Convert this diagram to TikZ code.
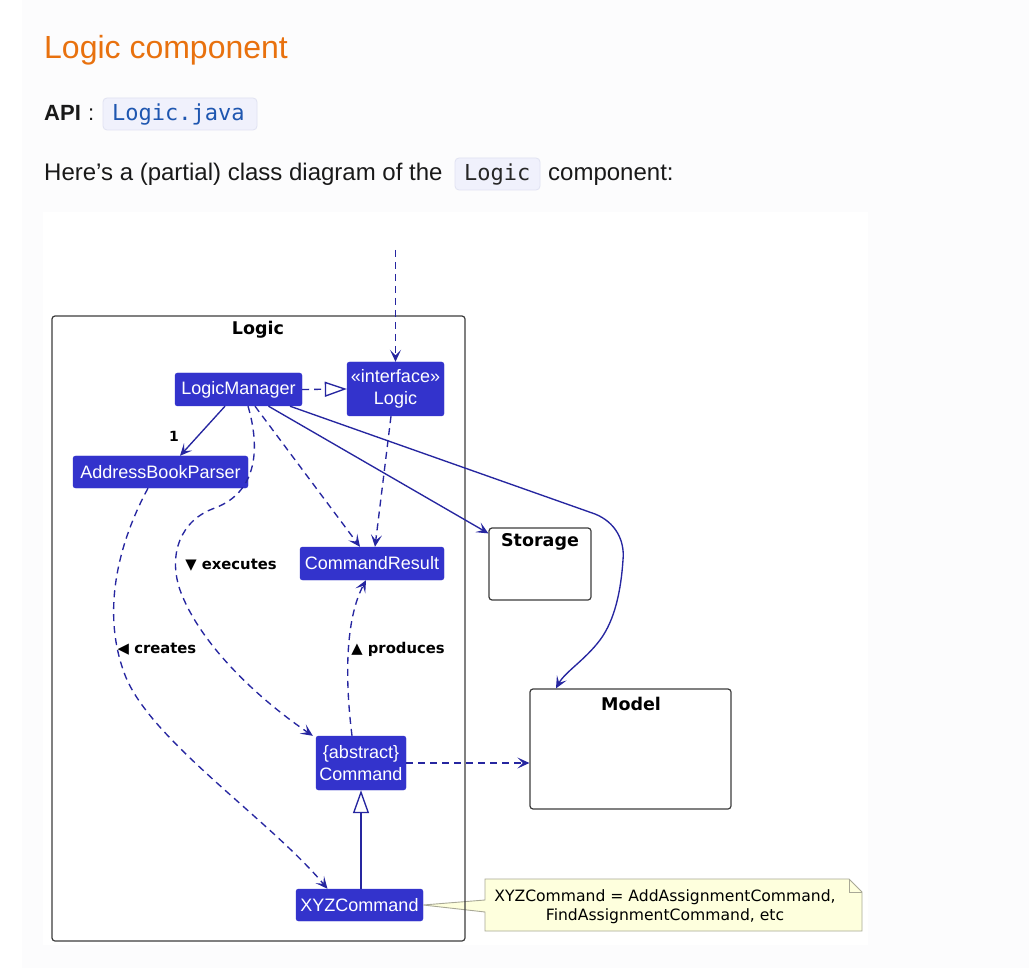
\documentclass[tikz,border=0pt]{standalone}
\usepackage{fontspec}
\setmainfont{Liberation Sans}
\newfontfamily\umlfont{DejaVu Sans}
\newfontfamily\codefont{DejaVu Sans Mono}
\usetikzlibrary{arrows.meta}
\definecolor{pagebg}{RGB}{252,252,253}
\definecolor{nodefill}{RGB}{51,51,204}
\definecolor{linecol}{RGB}{38,38,160}
\definecolor{titleorange}{RGB}{232,113,14}
\definecolor{codebg}{RGB}{240,241,252}
\definecolor{codeborder}{RGB}{224,226,242}
\definecolor{codeblue}{RGB}{30,86,176}
\definecolor{notefill}{RGB}{254,255,221}
\definecolor{noteborder}{RGB}{168,168,150}
\definecolor{boxborder}{RGB}{60,60,60}
\tikzset{
  cls/.style={fill=nodefill, draw=nodefill, text=white, rounded corners=2.5pt, inner sep=0pt, align=center, font=\fontsize{18}{22}\selectfont},
  pkgbox/.style={draw=boxborder, line width=1.2pt, rounded corners=3pt, inner sep=0pt},
  pkgtitle/.style={font=\umlfont\bfseries\fontsize{17.5}{20}\selectfont, inner sep=0pt},
  lbl/.style={font=\umlfont\bfseries\fontsize{14.8}{18}\selectfont, inner sep=0pt, text=black},
  umltip/.tip={Stealth[length=12pt,width=11pt,inset=5.5pt]},
  assoc/.style={draw=linecol, line width=1.35pt, -umltip},
  dep/.style={draw=linecol, line width=1.35pt, dash pattern=on 7pt off 5pt, -umltip},
  codebox/.style={fill=codebg, draw=codeborder, line width=0.8pt, rounded corners=4pt, inner sep=0pt},
  webtext/.style={inner sep=0pt, anchor=base west, font=\fontsize{24}{27}\selectfont, text=black!90},
}
\begin{document}
\begin{tikzpicture}[x=1pt,y=-1pt]
\useasboundingbox (0,0) rectangle (1029,968);
\fill[white] (0,0) rectangle (1029,968);
\fill[pagebg] (22,0) rectangle (1029,968);
\fill[white] (43,212) rectangle (868,945);

% page text
\node[webtext, font=\fontsize{32}{36}\selectfont, text=titleorange] (title) at (44,59) {Logic component};
\node[webtext, font=\bfseries\fontsize{22}{26}\selectfont] (api) at (44,121) {API};
\node[webtext, font=\fontsize{22}{26}\selectfont] (colon) at (88,121) {:};
\node[codebox, minimum width=154pt, minimum height=32pt] (codebox1) at (180,114) {};
\node[inner sep=0pt, anchor=base west, font=\codefont\fontsize{22}{26}\selectfont, text=codeblue] (code1) at (112,121) {Logic.java};
\node[webtext] (here) at (44,181) {Here’s a (partial) class diagram of the};
\node[codebox, minimum width=85pt, minimum height=32pt] (codebox2) at (497.5,174) {};
\node[inner sep=0pt, anchor=base west, font=\codefont\fontsize{22}{26}\selectfont, text=black!85] (code2) at (464,181) {Logic};
\node[webtext] (comp) at (548,181) {component:};

% note (drawn before package border)
\node[cls] (xyz) at (359.5,905) [minimum width=127pt, minimum height=32pt] {XYZCommand};
\draw[fill=notefill, draw=noteborder, line width=0.9pt, line join=miter]
  (485,879) -- (849,879) -- (862,892) -- (862,931) -- (485,931) -- (485,912) -- (xyz.east) -- (485,900) -- cycle;
\draw[draw=noteborder, line width=0.9pt] (849,879) -- (849,892) -- (862,892);
\node[inner sep=0pt, align=center, font=\umlfont\fontsize{15.6}{19.5}\selectfont] (notetext) at (665,906.5) {XYZCommand = AddAssignmentCommand,\\FindAssignmentCommand, etc};

% package and components
\node[pkgbox, minimum width=413pt, minimum height=625pt] (logicpkg) at (258.5,628.5) {};
\node[pkgtitle] (logictitle) at (258,330) {Logic};
\node[pkgbox, minimum width=102pt, minimum height=72pt] (storage) at (540,564) {};
\node[pkgtitle] (storagetitle) at (540,542) {Storage};
\node[pkgbox, minimum width=201pt, minimum height=120pt] (model) at (630.5,749) {};
\node[pkgtitle] (modeltitle) at (631,704) {Model};

% classes
\node[cls, minimum width=127pt, minimum height=33pt] (lm) at (238.5,389.5) {LogicManager};
\node[cls, minimum width=97pt, minimum height=54pt] (logic) at (395.5,389) {«interface»\\Logic};
\node[cls, minimum width=175pt, minimum height=32pt] (abp) at (160.5,472) {AddressBookParser};
\node[cls, minimum width=144pt, minimum height=33pt] (cr) at (372,563.5) {CommandResult};
\node[cls, minimum width=90pt, minimum height=54pt] (cmd) at (361,763) {\{abstract\}\\Command};

% connectors
\coordinate (ext) at (395.5,250);
\draw[dep] (ext) -- (logic.north);
\draw[draw=linecol, line width=1.35pt, dash pattern=on 7pt off 5pt, -{Triangle[open,length=22pt,width=15pt]}] (lm.east) -- (logic.west);
\draw[assoc] ([xshift=-13.5pt]lm.south) -- ([xshift=19.5pt]abp.north);
\node[lbl, font=\umlfont\bfseries\fontsize{14}{16}\selectfont] (one) at (174,436) {1};
\draw[assoc] ([xshift=30pt]lm.south) -- ([yshift=-6pt]storage.north west);
\draw[assoc] ([xshift=51.5pt]lm.south) -- (595,514) .. controls (615,522) and (625,540) .. (623,560)
  .. controls (621,590) and (615,620) .. (600,640) .. controls (585,660) and (565,672) .. ([xshift=-74.5pt]model.north);
\draw[dep] ([xshift=16.5pt]lm.south) -- ([xshift=-12pt]cr.north);
\draw[dep] ([xshift=-4.5pt]logic.south) -- ([xshift=3pt]cr.north);
\draw[dep] ([xshift=9.5pt]lm.south) .. controls (258,440) and (262,490) .. (215,508)
  .. controls (180,520) and (168,555) .. (180,590) .. controls (200,645) and (260,700) .. ([xshift=-3pt]cmd.north west);
\node[lbl] (execlbl) at (231,565) {▼ executes};
\draw[dep] ([xshift=-12.5pt]abp.south) .. controls (120,540) and (100,610) .. (125,675)
  .. controls (150,740) and (270,820) .. ([xshift=-32pt]xyz.north);
\node[lbl] (createlbl) at (157,649) {◀ creates};
\draw[dep] ([xshift=-9pt]cmd.north) .. controls (345,680) and (345,620) .. ([xshift=-6pt]cr.south);
\node[lbl] (prodlbl) at (398,649) {▲ produces};
\draw[dep] (cmd.east) -- (cmd.east -| model.west);
\draw[draw=linecol, line width=1.35pt, -{Triangle[open,length=23pt,width=16pt]}] (cmd.south |- xyz.north) -- (cmd.south);
\end{tikzpicture}
\end{document}
